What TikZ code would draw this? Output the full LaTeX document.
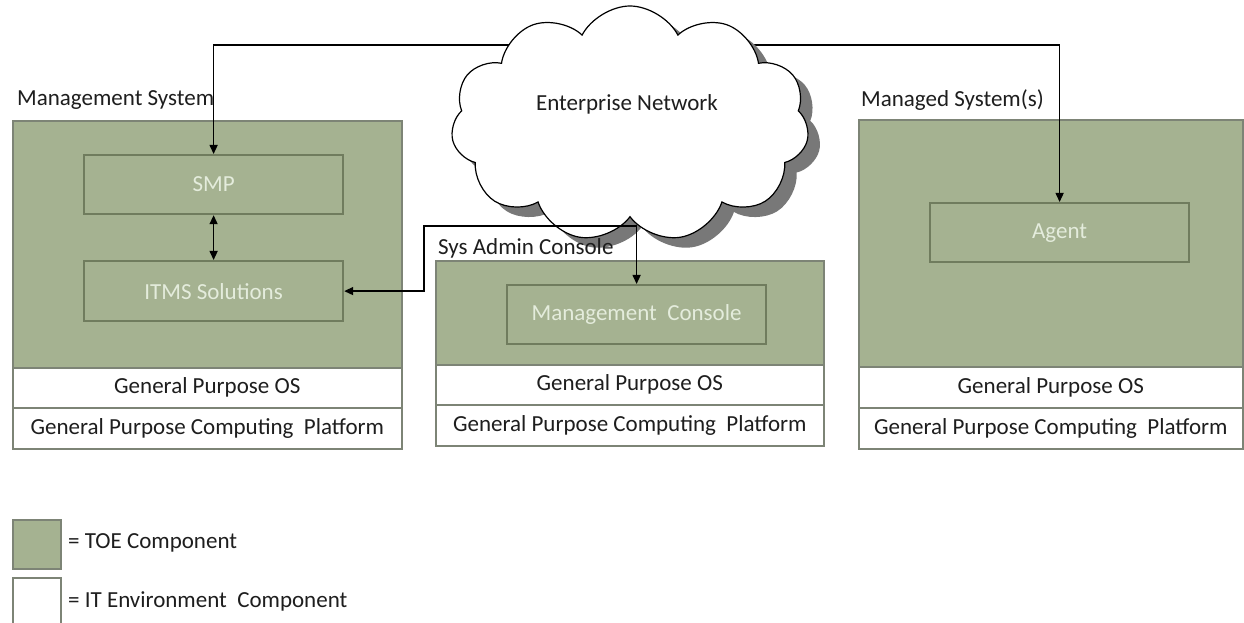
\documentclass[tikz,border=0pt]{standalone}
\usepackage{fontspec}
\setmainfont{Carlito}
\usetikzlibrary{shapes.symbols,arrows.meta}
\definecolor{toegreen}{RGB}{165,178,145}
\definecolor{toeborder}{RGB}{112,124,94}
\definecolor{boxgray}{RGB}{125,132,118}
\definecolor{lighttxt}{RGB}{228,236,220}
\definecolor{darktxt}{RGB}{30,30,30}
\definecolor{shadowgray}{RGB}{120,120,120}
\tikzset{
  txt/.style={font=\fontsize{23bp}{27bp}\selectfont, text=darktxt},
  toebox/.style={draw=boxgray, line width=2bp, fill=toegreen, inner sep=0pt, anchor=north west},
  envbox/.style={draw=boxgray, line width=1.6bp, fill=white, inner sep=0pt, anchor=north west, txt},
  compbox/.style={draw=toeborder, line width=2.2bp, fill=toegreen, inner sep=0pt, anchor=north west,
     font=\fontsize{23bp}{27bp}\selectfont, text=lighttxt},
  syslabel/.style={txt, anchor=west, inner sep=0pt},
  conn2/.style={draw=black, line width=1.4bp, {Triangle[length=9bp,width=8bp]}-{Triangle[length=9bp,width=8bp]}},
  cloudsh/.style={cloud, cloud puffs=11, cloud puff arc=125, minimum width=358bp, minimum height=236bp, inner sep=0pt}
}
\begin{document}
\begin{tikzpicture}[x=1bp,y=-1bp]
\clip (0,0) rectangle (1244,623);
\fill[white] (0,0) rectangle (1244,623);

% Management System
\node[syslabel] (mslabel) at (17,100) {Management System};
\node[toebox, minimum width=389bp, minimum height=247bp] (mstop) at (12,120) {};
\node[envbox, minimum width=389bp, minimum height=40bp] (msos) at (12,367) {General Purpose OS};
\node[envbox, minimum width=389bp, minimum height=41bp] (mspf) at (12,407) {General Purpose Computing~ Platform};
\node[compbox, minimum width=259bp, minimum height=59bp] (smp) at (83,154) {SMP};
\node[compbox, minimum width=259bp, minimum height=60bp] (itms) at (83,260) {ITMS Solutions};

% Sys Admin Console
\node[toebox, minimum width=388bp, minimum height=104bp] (satop) at (435,260) {};
\node[envbox, minimum width=388bp, minimum height=40bp] (saos) at (435,364) {General Purpose OS};
\node[envbox, minimum width=388bp, minimum height=41bp] (sapf) at (435,404) {General Purpose Computing~ Platform};
\node[compbox, minimum width=259bp, minimum height=59bp] (mc) at (506,284) {Management~ Console};

% Managed System(s)
\node[syslabel] (mglabel) at (861,100) {Managed System(s)};
\node[toebox, minimum width=384bp, minimum height=247bp] (mgtop) at (858,119) {};
\node[envbox, minimum width=384bp, minimum height=41bp] (mgos) at (858,366) {General Purpose OS};
\node[envbox, minimum width=384bp, minimum height=41bp] (mgpf) at (858,407) {General Purpose Computing~ Platform};
\node[compbox, minimum width=259bp, minimum height=59bp] (agent) at (929,202) {Agent};

% top connector (behind cloud)
\coordinate (topy) at (0,45);
\draw[conn2] (smp.north) -- (smp.north |- topy) -- (agent.north |- topy) -- (agent.north);
\draw[conn2] (smp.south) -- (itms.north);

% cloud
\node[cloudsh, fill=shadowgray] (cloudshadow) at (642,134) {};
\node[cloudsh, draw=black, line width=1.2bp, fill=white] (cloud) at (630,124) {};
\node[txt, inner sep=0pt] (cloudtxt) at (627,104) {Enterprise Network};

\node[syslabel] (salabel) at (438,248) {Sys Admin Console};

% console connector
\coordinate (c1) at (424,226);
\draw[conn2] (itms.east) -- (itms.east -| c1) -- (c1) -- (mc.north |- c1) -- (mc.north);

% legend
\node[toebox, minimum width=48bp, minimum height=49bp] (legtoe) at (12,519) {};
\node[envbox, minimum width=48bp, minimum height=50bp] (legenv) at (12,577) {};
\node[syslabel] (legtoetxt) at (68,543) {= TOE Component};
\node[syslabel] (legenvtxt) at (68,601) {= IT Environment~ Component};
\end{tikzpicture}
\end{document}
